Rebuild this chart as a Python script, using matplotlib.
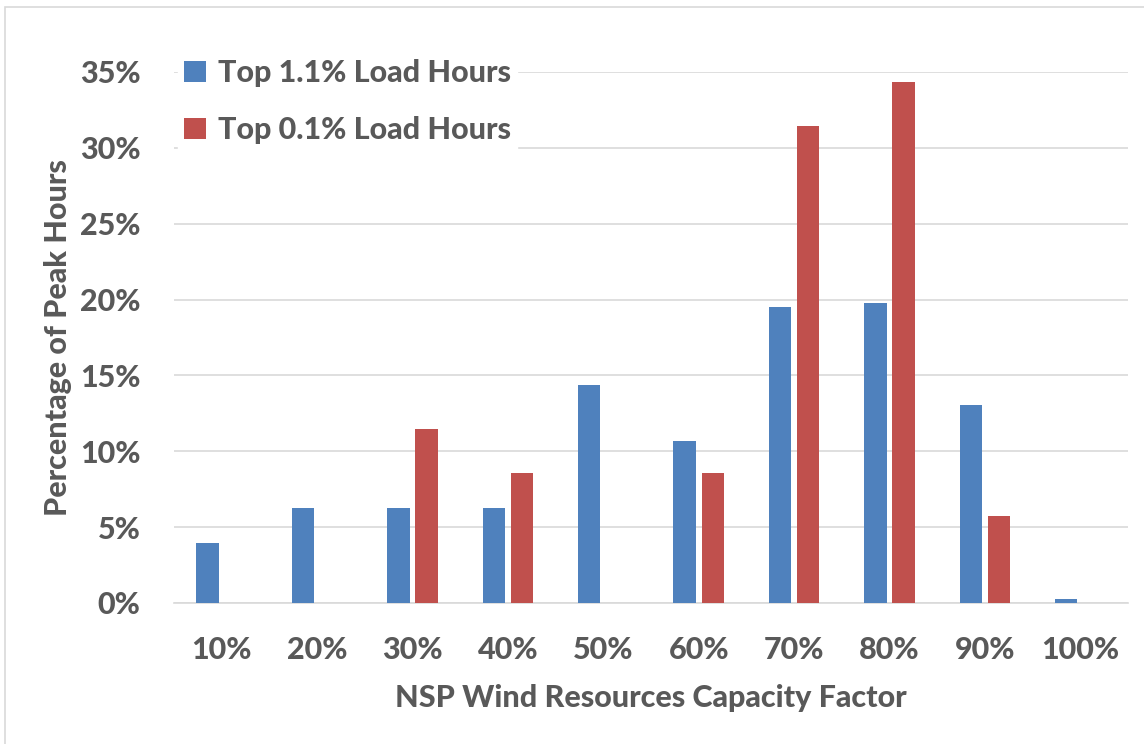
import matplotlib
matplotlib.use("Agg")
import matplotlib.pyplot as plt
import numpy as np
from matplotlib.patches import Rectangle
from matplotlib.ticker import FuncFormatter, MultipleLocator

# Capacity-factor bins and share of peak hours (%) falling in each bin
categories = ["10%", "20%", "30%", "40%", "50%", "60%", "70%", "80%", "90%", "100%"]
top_1_1 = [3.95, 6.25, 6.25, 6.25, 14.35, 10.68, 19.54, 19.76, 13.03, 0.28]
top_0_1 = [0.0, 0.0, 11.45, 8.6, 0.0, 8.6, 31.47, 34.34, 5.72, 0.0]
series_names = ["Top 1.1% Load Hours", "Top 0.1% Load Hours"]

BLUE = "#4F81BD"
RED = "#C0504D"
TEXT = "#595959"
GRID = "#D9D9D9"
FS = 22
WEIGHT = 900

plt.rcParams["font.family"] = ["Lato", "DejaVu Sans"]

fig = plt.figure(figsize=(11.44, 7.44), dpi=100)
fig.patch.set_facecolor("white")

# chart-area border (light grey frame)
fig.patches.append(Rectangle((5 / 1144, -0.1), 1.2, 0.1 + (744 - 7) / 744,
                             transform=fig.transFigure, fill=False,
                             edgecolor=GRID, linewidth=1.2, zorder=0))

ax = fig.add_axes([174 / 1144, (744 - 603) / 744, (1128 - 174) / 1144, (603 - 72) / 744])

x = np.arange(len(categories))
width = 0.235
offset = 0.148
ax.bar(x - offset, top_1_1, width, color=BLUE, label=series_names[0], zorder=3)
ax.bar(x + offset, top_0_1, width, color=RED, label=series_names[1], zorder=3)

ax.set_xlim(-0.5, len(categories) - 0.5)
ax.set_ylim(0, 35)
ax.yaxis.set_major_locator(MultipleLocator(5))
ax.yaxis.set_major_formatter(FuncFormatter(lambda v, _: f"{v:.0f}%"))
ax.set_xticks(x)
ax.set_xticklabels(categories)

ax.grid(axis="y", color=GRID, linewidth=1.2, zorder=0)
ax.set_axisbelow(True)
for side in ["top", "right", "left"]:
    ax.spines[side].set_visible(False)
ax.spines["bottom"].set_color(GRID)
ax.spines["bottom"].set_linewidth(1.2)

ax.tick_params(axis="both", length=0, labelsize=FS, labelcolor=TEXT)
ax.tick_params(axis="y", pad=24)
ax.tick_params(axis="x", pad=24)
for lbl in ax.get_xticklabels() + ax.get_yticklabels():
    lbl.set_fontweight(WEIGHT)

ax.set_xlabel("NSP Wind Resources Capacity Factor", fontsize=FS, color=TEXT,
              fontweight=WEIGHT, labelpad=14)
ax.set_ylabel("Percentage of Peak Hours", fontsize=FS, color=TEXT,
              fontweight=WEIGHT, labelpad=6)

leg = ax.legend(loc="upper left", bbox_to_anchor=(163 / 1144, (744 - 38) / 744),
                bbox_transform=fig.transFigure, frameon=True, fancybox=False,
                handlelength=0.7, handleheight=0.7, handletextpad=0.4,
                labelspacing=0.95, borderpad=0.2,
                prop={"size": FS, "weight": WEIGHT})
leg.get_frame().set_facecolor("white")
leg.get_frame().set_edgecolor("white")
leg.get_frame().set_alpha(1.0)
for t in leg.get_texts():
    t.set_color(TEXT)

fig.savefig("out.png", dpi=100, facecolor="white")
